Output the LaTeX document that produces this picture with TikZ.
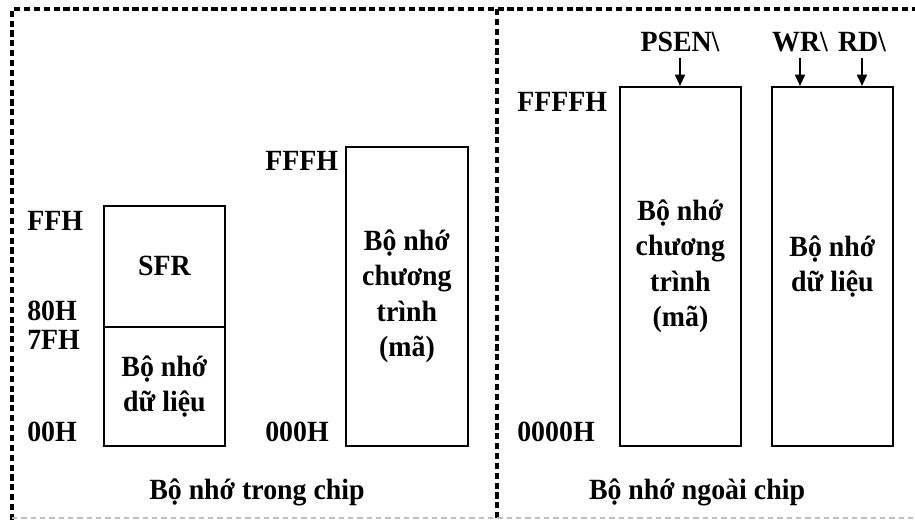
\documentclass[tikz,border=0pt]{standalone}
\usepackage{fontspec}
\setmainfont[FakeStretch=0.95]{Liberation Serif}
\usetikzlibrary{arrows.meta}
\begin{document}
\begin{tikzpicture}[x=0.75pt,y=-0.75pt,
  font=\fontsize{22}{26.5}\selectfont\bfseries,
  bord/.style={line width=2.3pt, dash pattern=on 4.6pt off 2.8pt},
  membox/.style={draw, line width=1.4pt, inner sep=0pt, anchor=north west, align=center},
  addr/.style={anchor=west, inner sep=0pt},
  sig/.style={inner sep=0pt},
  sigarrow/.style={-{Triangle[length=8.5pt,width=7.5pt]}, line width=1.3pt},
  title/.style={inner sep=0pt}
]
\useasboundingbox (0,0) rectangle (915,520);
% frame
\draw[bord] (12,520) -- (12,9) -- (915,9);
\draw[bord] (497,9) -- (497,520);
\draw[gray!50, line width=1pt, dash pattern=on 4pt off 3pt] (12,518) -- (915,518);

% internal data memory
\node[membox, minimum width=90.75pt, minimum height=90.75pt] (sfr) at (103,205) {SFR};
\node[membox, minimum width=90.75pt, minimum height=89.25pt] (idata) at (103,326) {Bộ nhớ\\dữ liệu};
% internal program memory
\node[membox, minimum width=91.5pt, minimum height=224.25pt] (iprog) at (345,146) {Bộ nhớ\\chương\\trình\\(mã)};
% external program memory
\node[membox, minimum width=90.75pt, minimum height=269.25pt] (eprog) at (619,86) {Bộ nhớ\\chương\\trình\\(mã)};
% external data memory
\node[membox, minimum width=90.75pt, minimum height=269.25pt] (edata) at (771,86) {Bộ nhớ\\dữ liệu};

% address labels
\node[addr] (a1) at (27,221) {FFH};
\node[addr] (a2) at (27,311) {80H};
\node[addr] (a3) at (27,340) {7FH};
\node[addr] (a4) at (27,432) {00H};
\node[addr] (a5) at (265,161) {FFFH};
\node[addr] (a6) at (265,432) {000H};
\node[addr] (a7) at (517,102) {FFFFH};
\node[addr] (a8) at (517,432) {0000H};

% control signals
\node[sig] (psen) at (680,42) {PSEN\textbackslash};
\node[sig] (wr) at (800,42) {WR\textbackslash};
\node[sig] (rd) at (862,42) {RD\textbackslash};
\coordinate (psenin) at (680,86);
\coordinate (wrin) at (800,86);
\coordinate (rdin) at (862,86);
\draw[sigarrow] (psen.south) ++(0,6) -- (psenin);
\draw[sigarrow] (wr.south) ++(0,6) -- (wrin);
\draw[sigarrow] (rd.south) ++(0,6) -- (rdin);

% titles
\node[title] (t1) at (257,492) {Bộ nhớ trong chip};
\node[title] (t2) at (697,492) {Bộ nhớ ngoài chip};
\end{tikzpicture}
\end{document}
